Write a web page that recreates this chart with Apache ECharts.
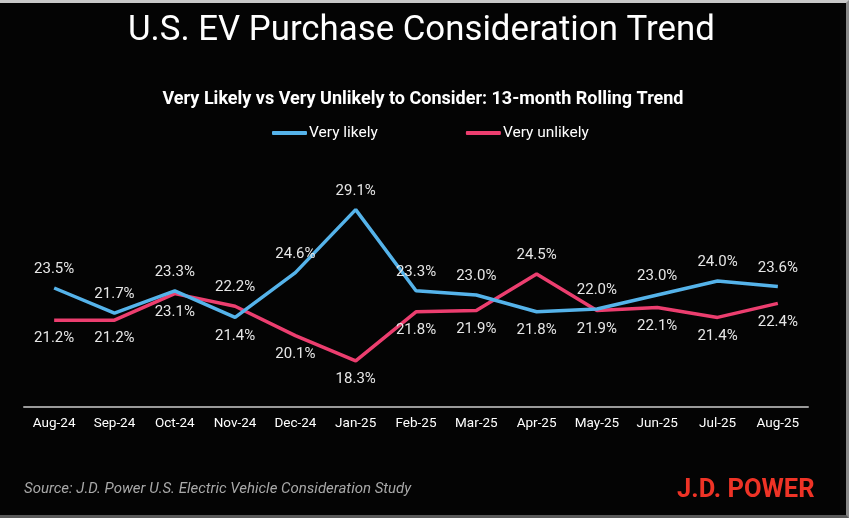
<!DOCTYPE html>
<html>
<head>
<meta charset="utf-8">
<script src="https://cdn.jsdelivr.net/npm/echarts@6/dist/echarts.min.js"></script>
<style>
  html, body { margin: 0; padding: 0; background: #000; }
  #frame { width: 849px; height: 518px; box-sizing: border-box; border-top: 3px solid #c8c8c8; border-right: 3px solid #8a8a8a; border-bottom: 3px solid #5a5a5a; background: #040404; }
  #chart { width: 846px; height: 512px; }
</style>
</head>
<body>
<div id="frame"><div id="chart"></div></div>
<script>
var months = ['Aug-24', 'Sep-24', 'Oct-24', 'Nov-24', 'Dec-24', 'Jan-25', 'Feb-25', 'Mar-25', 'Apr-25', 'May-25', 'Jun-25', 'Jul-25', 'Aug-25'];
var veryLikely = [23.5, 21.7, 23.3, 21.4, 24.6, 29.1, 23.3, 23.0, 21.8, 22.0, 23.0, 24.0, 23.6];
var veryUnlikely = [21.2, 21.2, 23.1, 22.2, 20.1, 18.3, 21.8, 21.9, 24.5, 21.9, 22.1, 21.4, 22.4];

var BLUE = '#55b3ea';
var PINK = '#ec3e6f';
var FONT = 'Roboto, "Noto Sans", sans-serif';

// the higher line gets its label above the point, the lower one below
function points(values, other) {
    return values.map(function (v, i) {
        return {
            value: v,
            label: { position: v >= other[i] ? 'top' : 'bottom' }
        };
    });
}

var pointLabel = {
    show: true,
    distance: 11,
    color: '#e6e6e6',
    fontFamily: FONT,
    fontSize: 15,
    formatter: function (p) { return p.value.toFixed(1) + '%'; }
};

var chart = echarts.init(document.getElementById('chart'));
chart.setOption({
    backgroundColor: '#040404',
    animation: false,
    title: [{
        text: 'U.S. EV Purchase Consideration Trend',
        left: 123,
        top: 6,
        textStyle: { color: '#fff', fontFamily: FONT, fontSize: 34.8, fontWeight: 'normal' }
    }, {
        text: 'Very Likely vs Very Unlikely to Consider: 13-month Rolling Trend',
        left: 'center',
        top: 82,
        textStyle: { color: '#fff', fontFamily: FONT, fontSize: 18, fontWeight: 'bold' }
    }, {
        text: 'Source: J.D. Power U.S. Electric Vehicle Consideration Study',
        left: 19,
        top: 474,
        textStyle: { color: '#a8a8a8', fontFamily: FONT, fontSize: 15, fontStyle: 'italic', fontWeight: 'normal' }
    }, {
        text: 'J.D. POWER',
        left: 672,
        top: 470,
        textStyle: { color: '#ee3326', fontFamily: FONT, fontSize: 25.5, fontWeight: 'bold' }
    }],
    legend: {
        top: 117,
        left: 267,
        itemWidth: 35,
        itemHeight: 4,
        itemGap: 88,
        icon: 'roundRect',
        textStyle: { color: '#fff', fontFamily: FONT, fontSize: 15.5, padding: [0, 0, 0, -3] },
        data: ['Very likely', 'Very unlikely']
    },
    grid: { left: 24, right: 38, top: 194, bottom: 108, containLabel: false },
    xAxis: {
        type: 'category',
        data: months,
        boundaryGap: true,
        axisLine: { lineStyle: { color: '#9a9a9a', width: 2 } },
        axisTick: { show: false },
        axisLabel: { color: '#fff', fontFamily: FONT, fontSize: 13.5, margin: 10 }
    },
    yAxis: {
        type: 'value',
        min: 15,
        max: 30,
        show: false,
        splitLine: { show: false }
    },
    series: [{
        name: 'Very likely',
        type: 'line',
        data: points(veryLikely, veryUnlikely),
        symbol: 'circle',
        symbolSize: 0,
        showSymbol: true,
        lineStyle: { color: BLUE, width: 3.5 },
        itemStyle: { color: BLUE },
        label: pointLabel,
        z: 3
    }, {
        name: 'Very unlikely',
        type: 'line',
        data: points(veryUnlikely, veryLikely),
        symbol: 'circle',
        symbolSize: 0,
        showSymbol: true,
        lineStyle: { color: PINK, width: 3.5 },
        itemStyle: { color: PINK },
        label: pointLabel,
        z: 2
    }]
});
</script>
</body>
</html>
